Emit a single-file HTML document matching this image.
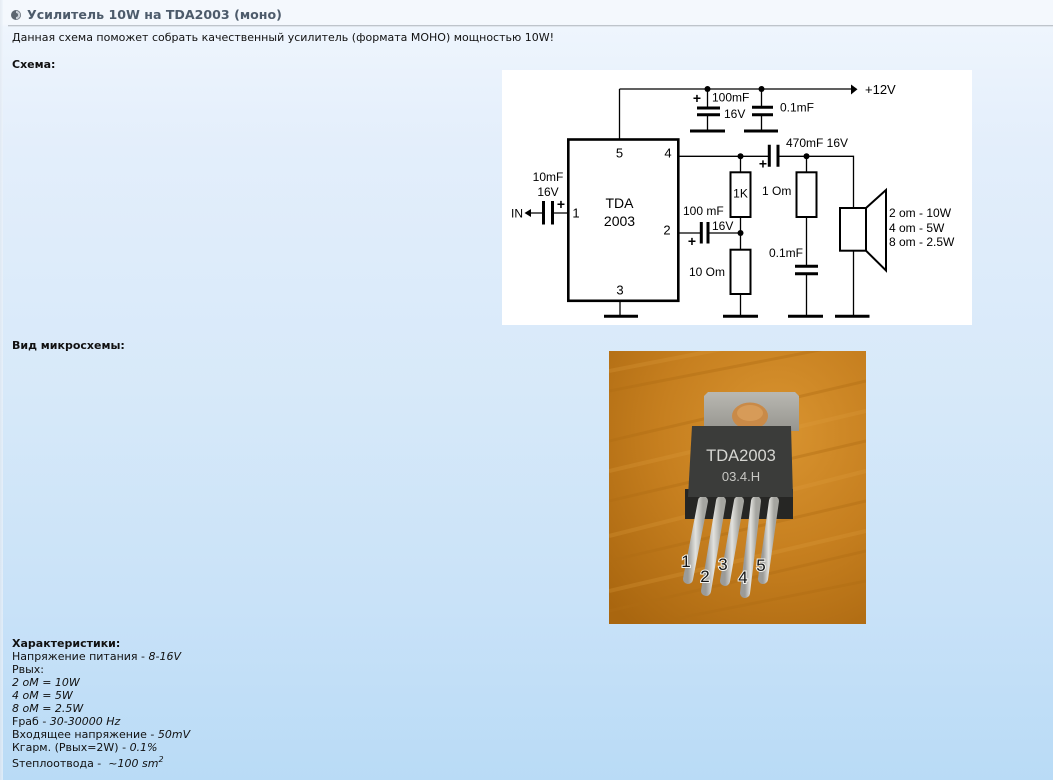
<!DOCTYPE html>
<html><head><meta charset="utf-8">
<style>
html,body{margin:0;padding:0;}
body{width:1053px;height:780px;overflow:hidden;position:relative;
background:linear-gradient(to bottom,#f4f8fd 0px,#f4f8fd 24px,#eef5fd 27px,#e3eefb 150px,#d7e9f9 390px,#c9e2f8 600px,#b9dbf6 780px);
font-family:"DejaVu Sans","Liberation Sans",sans-serif;color:#111;}
.abs{position:absolute;white-space:nowrap;}
.t{font-size:11px;line-height:14px;}
.b{font-weight:bold;}
#title{left:27px;top:7px;font-family:"DejaVu Sans","Liberation Sans",sans-serif;font-weight:bold;font-size:12.6px;line-height:16px;color:#4d5b6b;}
#sep1{left:8px;top:25px;width:1045px;height:1px;background:#bec4cb;}
#sep2{left:8px;top:26px;width:1045px;height:1px;background:#dfe5ec;}
#leftb{left:0;top:0;width:3px;height:780px;background:linear-gradient(to right,#dfe6ee,#eef4fb);opacity:.7;}
#chars{left:12px;top:637px;font-size:11px;line-height:13px;}
#chars i{font-style:italic;}
sup{font-size:8px;line-height:0;vertical-align:5px;}
</style></head><body>
<div class="abs" id="leftb"></div>
<svg class="abs" style="left:10px;top:9px" width="12" height="12" viewBox="0 0 12 12">
<circle cx="6" cy="6" r="5" fill="#5d6670"/>
<path d="M6 1.7 A4.3 4.3 0 0 1 6 10.3 Z" fill="#c9cfd6"/>
<circle cx="6" cy="6" r="2" fill="#5d6670"/>
</svg>
<div class="abs" id="title">Усилитель 10W на TDA2003 (моно)</div>
<div class="abs" id="sep1"></div>
<div class="abs" id="sep2"></div>
<div class="abs t" style="left:12px;top:31px;">Данная схема поможет собрать качественный усилитель (формата МОНО) мощностью 10W!</div>
<div class="abs t b" style="left:12px;top:58px;">Схема:</div>
<div class="abs t b" style="left:12px;top:339px;">Вид микросхемы:</div>

<svg class="abs" style="left:0;top:0" width="1053" height="780" viewBox="0 0 1053 780">
<rect x="502" y="70" width="470" height="255" fill="#fff"/>
<g stroke="#000" fill="none" stroke-width="1.3">
<path d="M619.5 89V139 M619.5 89H852"/>
<path d="M707.5 89V108 M707.5 115V131"/>
<path d="M761.5 89V107.5 M761.5 114.5V131"/>
<path d="M678 156.3H769 M778 156.3H853.5V208"/>
<path d="M740.5 156.3V172.3 M740.5 217V249.7 M740.5 294V316"/>
<path d="M678 233H701 M708 233H740.5"/>
<path d="M806.5 156.3V172.3 M806.5 217V266.3 M806.5 273.7V316"/>
<path d="M853.5 250.7V316"/>
<path d="M568 213H552.5 M543.5 213H530"/>
<path d="M620 300.7V316"/>
</g>
<g stroke="#000" fill="none" stroke-width="2.6">
<rect x="568.3" y="139.5" width="110" height="161.3"/>
</g>
<g stroke="#000" fill="none" stroke-width="2">
<rect x="730.5" y="172.3" width="20" height="44.7"/>
<rect x="730.5" y="249.7" width="20" height="44.3"/>
<rect x="796.5" y="172.3" width="20" height="44.7"/>
<rect x="840" y="208" width="26" height="42.7"/>
<polygon points="866,208 886,190 886,270.5 866,250.7"/>
</g>
<g stroke="#000" fill="none" stroke-width="3">
<path d="M697 108H720 M697 114.8H720"/>
<path d="M752 107.3H773 M752 114.7H773"/>
<path d="M769.3 144.7V166.7 M778 144.7V166.7"/>
<path d="M701.3 222V243.5 M708 222V243.5"/>
<path d="M795 266.3H818 M795 273.7H818"/>
<path d="M543.5 201V224.5 M552.5 201V224.5"/>
<path d="M690 131H725 M744 131H778"/>
<path d="M604 316.3H638 M723 316.3H758 M788 316.3H823 M835 316.3H869.5"/>
</g>
<g fill="#000">
<circle cx="707.5" cy="89" r="3"/>
<circle cx="761.5" cy="89" r="3"/>
<circle cx="740.5" cy="156.3" r="3"/>
<circle cx="806.5" cy="156.3" r="3"/>
<circle cx="740.5" cy="233" r="3"/>
<polygon points="851,84.5 857.5,89.3 851,94.5"/>
<polygon points="524.5,213 531,209 531,217"/>
</g>
<g font-family="Liberation Sans, sans-serif" font-size="12" fill="#000">
<text x="712" y="101.5">100mF</text>
<text x="724" y="118">16V</text>
<text x="780" y="111.5">0.1mF</text>
<text x="865" y="94" font-size="13">+12V</text>
<text x="786" y="147">470mF 16V</text>
<text x="548" y="181" text-anchor="middle">10mF</text>
<text x="548" y="196" text-anchor="middle">16V</text>
<text x="517" y="217.5" text-anchor="middle">IN</text>
<text x="683" y="215">100 mF</text>
<text x="712" y="230">16V</text>
<text x="740.5" y="197.5" text-anchor="middle">1K</text>
<text x="689" y="276">10 Om</text>
<text x="762" y="195">1 Om</text>
<text x="769" y="257">0.1mF</text>
<text x="889" y="217">2 om - 10W</text>
<text x="889" y="232">4 om - 5W</text>
<text x="889" y="246">8 om - 2.5W</text>
<g font-size="13" text-anchor="middle">
<text x="619.5" y="157.5">5</text>
<text x="668" y="157.5">4</text>
<text x="576" y="217.5">1</text>
<text x="667" y="234.5">2</text>
<text x="620" y="294.5">3</text>
</g>
<g font-size="14" text-anchor="middle">
<text x="619.5" y="208">TDA</text>
<text x="619.5" y="226">2003</text>
</g>
<g font-size="14" font-weight="bold" text-anchor="middle">
<text x="697" y="103">+</text>
<text x="561" y="209">+</text>
<text x="692" y="246">+</text>
<text x="763" y="168.5">+</text>
</g>
</g>
</svg>

<svg class="abs" style="left:609px;top:351px" width="257" height="273" viewBox="0 0 257 273">
<defs>
<radialGradient id="wood" cx="0.65" cy="0.3" r="0.9">
<stop offset="0" stop-color="#d99430"/>
<stop offset="0.5" stop-color="#c67f1f"/>
<stop offset="1" stop-color="#a9660f"/>
</radialGradient>
<linearGradient id="tab" x1="0" y1="0" x2="0" y2="1">
<stop offset="0" stop-color="#b9b8b2"/>
<stop offset="1" stop-color="#96958f"/>
</linearGradient>
<linearGradient id="leg" x1="0" y1="0" x2="1" y2="0">
<stop offset="0" stop-color="#9b9b98"/>
<stop offset="0.5" stop-color="#e2e2de"/>
<stop offset="1" stop-color="#a5a5a0"/>
</linearGradient>
</defs>
<rect width="257" height="273" fill="url(#wood)"/>
<g stroke="#b06d14" stroke-width="3" opacity="0.4" fill="none">
<path d="M0 40 L257 -10"/><path d="M0 90 L257 30"/><path d="M0 150 L257 90"/>
<path d="M0 210 L257 150"/><path d="M0 260 L257 200"/><path d="M40 273 L257 230"/>
</g>
<g stroke="#e0a040" stroke-width="4" opacity="0.25" fill="none">
<path d="M0 20 L257 -30"/><path d="M0 120 L257 60"/><path d="M0 185 L257 120"/><path d="M0 240 L257 180"/>
</g>
<polygon points="95,45 99,41 186,41 190,45 190,80 95,80" fill="url(#tab)"/>
<ellipse cx="141" cy="65" rx="18" ry="13.5" fill="#c98a48"/>
<ellipse cx="141" cy="62" rx="13" ry="8" fill="#d79b58"/>
<rect x="76" y="138" width="108" height="30" fill="#262624"/>
<g stroke="url(#leg)" stroke-width="10" stroke-linecap="round" fill="none">
<path d="M94 150 L79 228"/>
<path d="M112 150 L97 240"/>
<path d="M130 150 L116 230"/>
<path d="M147 150 L136 242"/>
<path d="M165 150 L154 228"/>
</g>
<polygon points="83,75 182,75 184,146 79,146" fill="#3b3c3a"/>
<text x="132" y="110" text-anchor="middle" font-family="Liberation Sans, sans-serif" font-size="16.5" fill="#d6d6d2">TDA2003</text>
<text x="132" y="130" text-anchor="middle" font-family="Liberation Sans, sans-serif" font-size="13" fill="#c8c8c4">03.4.H</text>
<g font-family="Liberation Sans, sans-serif" font-size="17" fill="#161616" text-anchor="middle" stroke="#f4f4f0" stroke-width="2" paint-order="stroke">
<text x="77" y="216">1</text>
<text x="96" y="231">2</text>
<text x="114" y="219">3</text>
<text x="134" y="232">4</text>
<text x="152" y="220">5</text>
</g>
</svg>

<div class="abs" id="chars">
<div class="b">Характеристики:</div>
<div>Напряжение питания - <i>8-16V</i></div>
<div>Рвых:</div>
<div><i>2 оМ = 10W</i></div>
<div><i>4 оМ = 5W</i></div>
<div><i>8 оМ = 2.5W</i></div>
<div>Fраб - <i>30-30000 Hz</i></div>
<div>Входящее напряжение - <i>50mV</i></div>
<div>Кгарм. (Рвых=2W) - <i>0.1%</i></div>
<div style="margin-top:3px">Sтеплоотвода - &nbsp;<i>~100 sm<sup>2</sup></i></div>
</div>
</body></html>
